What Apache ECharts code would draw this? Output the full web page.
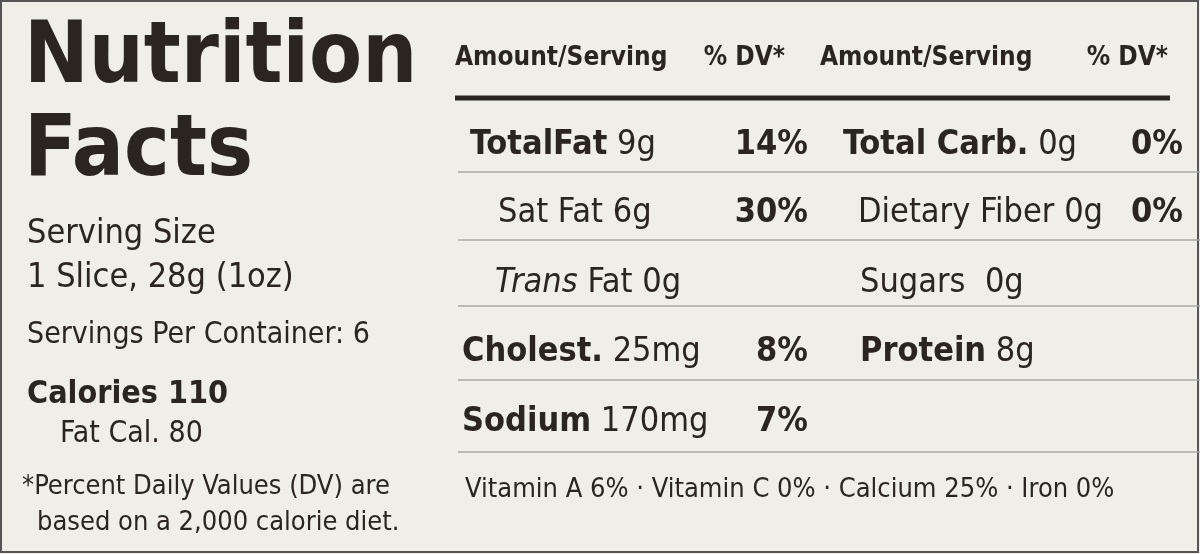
<!DOCTYPE html>
<html>
<head>
<meta charset="utf-8">
<script src="https://cdn.jsdelivr.net/npm/echarts@6/dist/echarts.min.js"></script>
<style>html,body{margin:0;padding:0;background:#efeee9}#main{width:1200px;height:554px}</style>
</head>
<body>
<div id="main"></div>
<script>
var FONT = "'Liberation Sans Narrow','DejaVu Sans Condensed','Roboto Condensed',sans-serif";
var INK = '#2b2522';

// rows of the label: left nutrient, its %DV, right nutrient, its %DV
var leftBold = ['TotalFat', '', '', 'Cholest.', 'Sodium'];
var leftText = [' 9g', 'Sat Fat 6g', 'Trans Fat 0g', ' 25mg', ' 170mg'];
var leftItalic = ['', '', 'Trans', '', ''];
var leftIndent = [470, 498, 495, 462, 462];
var leftDV = ['14%', '30%', '', '8%', '7%'];
var rightBold = ['Total Carb.', '', '', 'Protein', ''];
var rightText = [' 0g', 'Dietary Fiber 0g', 'Sugars  0g', ' 8g', ''];
var rightIndent = [843, 858, 860, 860, 860];
var rightDV = ['0%', '0%', '', '', ''];
var rowY = [145, 213, 283, 352, 422];
var lineY = [172, 240, 306, 380, 452];
var vitamins = 'Vitamin A 6% · Vitamin C 0% · Calcium 25% · Iron 0%';

var chart = echarts.init(document.getElementById('main'));
var g = [];
function txt(x, y, s, size, weight, align, extra) {
  var o = {type: 'text', x: x, y: y, style: {text: s, font: (weight || 'normal') + ' ' + size + 'px ' + FONT,
    fill: INK, textAlign: align || 'left', textVerticalAlign: 'middle'}};
  if (extra) o.style.rich = extra;
  g.push(o);
}
// frame
g.push({type: 'rect', shape: {x: 1, y: 1, width: 1197, height: 551}, style: {fill: '#efeee9', stroke: '#555', lineWidth: 2}});
// left panel
txt(24, 60, 'Nutrition', 86, 'bold');
txt(24, 153, 'Facts', 86, 'bold');
txt(27, 234, 'Serving Size', 34);
txt(27, 278, '1 Slice, 28g (1oz)', 34);
txt(27, 335, 'Servings Per Container: 6', 30);
txt(27, 395, 'Calories 110', 32, 'bold');
txt(60, 434, 'Fat Cal. 80', 30);
txt(22, 487, '*Percent Daily Values (DV) are', 27);
txt(37, 523, 'based on a 2,000 calorie diet.', 27);
// header
txt(455, 58, 'Amount/Serving', 26, 'bold');
txt(785, 58, '% DV*', 26, 'bold', 'right');
txt(820, 58, 'Amount/Serving', 26, 'bold');
txt(1168, 58, '% DV*', 26, 'bold', 'right');
g.push({type: 'line', shape: {x1: 455, y1: 98, x2: 1170, y2: 98}, style: {stroke: INK, lineWidth: 5}});
lineY.forEach(function (y) {
  g.push({type: 'line', shape: {x1: 458, y1: y, x2: 1200, y2: y}, style: {stroke: '#a9a8a4', lineWidth: 1.5}});
});
var rich = {
  b: {font: 'bold 34px ' + FONT, fill: INK},
  n: {font: '34px ' + FONT, fill: INK},
  i: {font: 'italic 34px ' + FONT, fill: INK}
};
rowY.forEach(function (y, k) {
  var s = '';
  if (leftBold[k]) s += '{b|' + leftBold[k] + '}';
  if (leftItalic[k]) s += '{i|' + leftItalic[k] + '}{n|' + leftText[k].replace(leftItalic[k], '') + '}';
  else s += '{n|' + leftText[k] + '}';
  txt(leftIndent[k], y, s, 34, 'normal', 'left', rich);
  if (leftDV[k]) txt(808, y, leftDV[k], 34, 'bold', 'right');
  var r = '';
  if (rightBold[k]) r += '{b|' + rightBold[k] + '}';
  if (rightText[k]) r += '{n|' + rightText[k] + '}';
  if (r) txt(rightIndent[k], y, r, 34, 'normal', 'left', rich);
  if (rightDV[k]) txt(1183, y, rightDV[k], 34, 'bold', 'right');
});
txt(465, 490, vitamins, 27);

chart.setOption({backgroundColor: '#efeee9', graphic: g});
</script>
</body>
</html>
